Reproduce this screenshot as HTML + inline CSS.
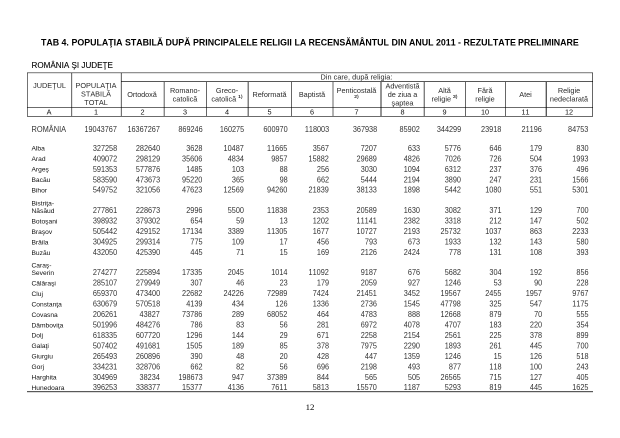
<!DOCTYPE html>
<html lang="ro"><head><meta charset="utf-8"><title>TAB 4</title>
<style>
html,body{margin:0;padding:0;background:#fff;}
body{width:620px;height:438px;position:relative;overflow:hidden;font-family:"Liberation Sans",sans-serif;color:#2b2b2b;}
.t{position:absolute;transform:scale(0.5);transform-origin:0 0;will-change:transform;}
.i{position:absolute;white-space:nowrap;font-kerning:none;}
.f0{font-size:15.7px;line-height:15.7px;color:#333;transform:scaleX(0.93);transform-origin:100% 0}
.f1{font-size:13.3px;line-height:13.3px;color:#111}
.f2{font-size:14.6px;line-height:14.6px;text-align:center}
.f3{font-size:17.7px;line-height:17.7px;letter-spacing:-0.03px;color:#000;font-weight:bold}
.f4{font-size:14.6px;line-height:14.6px;color:#111;text-align:center}
.f5{font-size:16.2px;line-height:16.2px;color:#000;-webkit-text-stroke:0.2px #000}
.f6{font-size:14.6px;line-height:14.6px;letter-spacing:0.08px}
.f7{font-size:14.6px;line-height:14.6px;letter-spacing:-0.14px;text-align:center}
.f8{font-size:15.7px;line-height:15.7px;color:#333;transform:scaleX(0.945);transform-origin:0 0}
.f9{font-size:17.7px;line-height:17.7px;color:#000;font-family:"Liberation Serif",serif;text-align:center}
.l{position:absolute;}
.s{font-size:0.68em;position:relative;top:-0.74em;color:#000;-webkit-text-stroke:0.2px #000;}
</style></head><body>
<div class="l" style="left:27px;top:72px;width:566px;height:1px;background:rgba(0,0,0,0.43)"></div>
<div class="l" style="left:27px;top:73px;width:566px;height:1px;background:rgba(0,0,0,0.12)"></div>
<div class="l" style="left:121px;top:81px;width:472px;height:1px;background:rgba(0,0,0,0.66)"></div>
<div class="l" style="left:27px;top:107px;width:566px;height:1px;background:rgba(0,0,0,0.58)"></div>
<div class="l" style="left:27px;top:116px;width:566px;height:1px;background:rgba(0,0,0,0.58)"></div>
<div class="l" style="left:27px;top:391px;width:566px;height:1px;background:rgba(0,0,0,0.65)"></div>
<div class="l" style="left:27px;top:392px;width:566px;height:1px;background:rgba(0,0,0,0.14)"></div>
<div class="l" style="left:27px;top:73px;width:1px;height:43px;background:rgba(0,0,0,0.55)"></div>
<div class="l" style="left:71px;top:73px;width:1px;height:43px;background:rgba(0,0,0,0.55)"></div>
<div class="l" style="left:72px;top:73px;width:1px;height:43px;background:rgba(0,0,0,0.1)"></div>
<div class="l" style="left:120px;top:73px;width:1px;height:43px;background:rgba(0,0,0,0.1)"></div>
<div class="l" style="left:121px;top:73px;width:1px;height:43px;background:rgba(0,0,0,0.55)"></div>
<div class="l" style="left:163px;top:82px;width:1px;height:34px;background:rgba(0,0,0,0.2)"></div>
<div class="l" style="left:164px;top:82px;width:1px;height:34px;background:rgba(0,0,0,0.45)"></div>
<div class="l" style="left:206px;top:82px;width:1px;height:34px;background:rgba(0,0,0,0.6)"></div>
<div class="l" style="left:247px;top:82px;width:1px;height:34px;background:rgba(0,0,0,0.25)"></div>
<div class="l" style="left:248px;top:82px;width:1px;height:34px;background:rgba(0,0,0,0.5)"></div>
<div class="l" style="left:291px;top:82px;width:1px;height:34px;background:rgba(0,0,0,0.6)"></div>
<div class="l" style="left:332px;top:82px;width:1px;height:34px;background:rgba(0,0,0,0.3)"></div>
<div class="l" style="left:333px;top:82px;width:1px;height:34px;background:rgba(0,0,0,0.3)"></div>
<div class="l" style="left:380px;top:82px;width:1px;height:34px;background:rgba(0,0,0,0.42)"></div>
<div class="l" style="left:381px;top:82px;width:1px;height:34px;background:rgba(0,0,0,0.42)"></div>
<div class="l" style="left:423px;top:82px;width:1px;height:34px;background:rgba(0,0,0,0.2)"></div>
<div class="l" style="left:424px;top:82px;width:1px;height:34px;background:rgba(0,0,0,0.5)"></div>
<div class="l" style="left:465px;top:82px;width:1px;height:34px;background:rgba(0,0,0,0.6)"></div>
<div class="l" style="left:505px;top:82px;width:1px;height:34px;background:rgba(0,0,0,0.6)"></div>
<div class="l" style="left:545px;top:82px;width:1px;height:34px;background:rgba(0,0,0,0.25)"></div>
<div class="l" style="left:546px;top:82px;width:1px;height:34px;background:rgba(0,0,0,0.65)"></div>
<div class="l" style="left:592px;top:73px;width:1px;height:43px;background:rgba(0,0,0,0.6)"></div>
<div class="t" style="left:40px;top:34px;width:54px;height:35px"><div class="i f3" style="left:2px;top:9px">TAB</div></div>
<div class="t" style="left:60px;top:34px;width:32px;height:35px"><div class="i f3" style="left:3px;top:9px">4.</div></div>
<div class="t" style="left:70px;top:34px;width:120px;height:35px"><div class="i f3" style="left:3px;top:9px">POPULAŢIA</div></div>
<div class="t" style="left:123px;top:34px;width:94px;height:35px"><div class="i f3" style="left:4px;top:9px">STABILĂ</div></div>
<div class="t" style="left:164px;top:34px;width:68px;height:35px"><div class="i f3" style="left:3px;top:9px">DUPĂ</div></div>
<div class="t" style="left:191px;top:34px;width:148px;height:35px"><div class="i f3" style="left:4px;top:9px">PRINCIPALELE</div></div>
<div class="t" style="left:259px;top:34px;width:82px;height:35px"><div class="i f3" style="left:2px;top:9px">RELIGII</div></div>
<div class="t" style="left:293px;top:34px;width:42px;height:35px"><div class="i f3" style="left:3px;top:9px">LA</div></div>
<div class="t" style="left:307px;top:34px;width:178px;height:35px"><div class="i f3" style="left:3px;top:9px">RECENSĂMÂNTUL</div></div>
<div class="t" style="left:390px;top:34px;width:48px;height:35px"><div class="i f3" style="left:3px;top:9px">DIN</div></div>
<div class="t" style="left:407px;top:34px;width:66px;height:35px"><div class="i f3" style="left:4px;top:9px">ANUL</div></div>
<div class="t" style="left:434px;top:34px;width:58px;height:35px"><div class="i f3" style="left:4px;top:9px">2011</div></div>
<div class="t" style="left:456px;top:34px;width:24px;height:35px"><div class="i f3" style="left:4px;top:9px">-</div></div>
<div class="t" style="left:462px;top:34px;width:122px;height:35px"><div class="i f3" style="left:3px;top:9px">REZULTATE</div></div>
<div class="t" style="left:517px;top:34px;width:140px;height:35px"><div class="i f3" style="left:2px;top:9px">PRELIMINARE</div></div>
<div class="t" style="left:30px;top:57px;width:200px;height:32px"><div class="i f5" style="left:3px;top:8px">ROMÂNIA ŞI JUDEŢE</div></div>
<div class="t" style="left:20px;top:78px;width:120px;height:30px"><div class="i f2" style="left:-1px;width:120px;top:8px">JUDEŢUL</div></div>
<div class="t" style="left:66px;top:78px;width:120px;height:30px"><div class="i f2" style="left:0px;width:120px;top:8px">POPULAŢIA</div></div>
<div class="t" style="left:66px;top:87px;width:120px;height:29px"><div class="i f2" style="left:0px;width:120px;top:7px">STABILĂ</div></div>
<div class="t" style="left:66px;top:95px;width:120px;height:30px"><div class="i f2" style="left:0px;width:120px;top:8px">TOTAL</div></div>
<div class="t" style="left:319px;top:70px;width:180px;height:29px"><div class="i f6" style="left:3px;top:7px">Din care, după religia:</div></div>
<div class="t" style="left:112px;top:87px;width:120px;height:30px"><div class="i f7" style="left:0px;width:120px;top:8px">Ortodoxă</div></div>
<div class="t" style="left:155px;top:83px;width:120px;height:30px"><div class="i f2" style="left:0px;width:120px;top:8px">Romano-</div></div>
<div class="t" style="left:155px;top:92px;width:120px;height:29px"><div class="i f2" style="left:0px;width:120px;top:7px">catolică</div></div>
<div class="t" style="left:197px;top:83px;width:120px;height:30px"><div class="i f2" style="left:0px;width:120px;top:8px">Greco-</div></div>
<div class="t" style="left:197px;top:92px;width:120px;height:29px"><div class="i f2" style="left:0px;width:120px;top:7px">catolică <span class="s">1)</span></div></div>
<div class="t" style="left:240px;top:87px;width:120px;height:30px"><div class="i f2" style="left:-1px;width:120px;top:8px">Reformată</div></div>
<div class="t" style="left:282px;top:87px;width:120px;height:30px"><div class="i f2" style="left:0px;width:120px;top:8px">Baptistă</div></div>
<div class="t" style="left:327px;top:83px;width:120px;height:30px"><div class="i f2" style="left:-1px;width:120px;top:8px">Penticostală</div></div>
<div class="t" style="left:327px;top:92px;width:120px;height:29px"><div class="i f2" style="left:-1px;width:120px;top:7px"><span class="s">2)</span></div></div>
<div class="t" style="left:372px;top:79px;width:120px;height:29px"><div class="i f2" style="left:1px;width:120px;top:7px">Adventistă</div></div>
<div class="t" style="left:372px;top:87px;width:120px;height:30px"><div class="i f2" style="left:1px;width:120px;top:8px">de ziua a</div></div>
<div class="t" style="left:372px;top:96px;width:120px;height:29px"><div class="i f2" style="left:1px;width:120px;top:7px">şaptea</div></div>
<div class="t" style="left:415px;top:83px;width:120px;height:30px"><div class="i f2" style="left:-1px;width:120px;top:8px">Altă</div></div>
<div class="t" style="left:415px;top:92px;width:120px;height:29px"><div class="i f2" style="left:-1px;width:120px;top:7px">religie <span class="s">3)</span></div></div>
<div class="t" style="left:455px;top:83px;width:120px;height:30px"><div class="i f2" style="left:0px;width:120px;top:8px">Fără</div></div>
<div class="t" style="left:455px;top:92px;width:120px;height:29px"><div class="i f2" style="left:0px;width:120px;top:7px">religie</div></div>
<div class="t" style="left:496px;top:87px;width:120px;height:30px"><div class="i f2" style="left:-1px;width:120px;top:8px">Atei</div></div>
<div class="t" style="left:539px;top:83px;width:120px;height:30px"><div class="i f2" style="left:0px;width:120px;top:8px">Religie</div></div>
<div class="t" style="left:539px;top:92px;width:120px;height:29px"><div class="i f2" style="left:0px;width:120px;top:7px">nedeclarată</div></div>
<div class="t" style="left:34px;top:105px;width:60px;height:29px"><div class="i f4" style="left:0px;width:60px;top:7px">A</div></div>
<div class="t" style="left:81px;top:105px;width:60px;height:29px"><div class="i f4" style="left:0px;width:60px;top:7px">1</div></div>
<div class="t" style="left:127px;top:105px;width:60px;height:29px"><div class="i f4" style="left:1px;width:60px;top:7px">2</div></div>
<div class="t" style="left:170px;top:105px;width:60px;height:29px"><div class="i f4" style="left:0px;width:60px;top:7px">3</div></div>
<div class="t" style="left:212px;top:105px;width:60px;height:29px"><div class="i f4" style="left:0px;width:60px;top:7px">4</div></div>
<div class="t" style="left:255px;top:105px;width:60px;height:29px"><div class="i f4" style="left:-1px;width:60px;top:7px">5</div></div>
<div class="t" style="left:297px;top:105px;width:60px;height:29px"><div class="i f4" style="left:0px;width:60px;top:7px">6</div></div>
<div class="t" style="left:342px;top:105px;width:60px;height:29px"><div class="i f4" style="left:-1px;width:60px;top:7px">7</div></div>
<div class="t" style="left:387px;top:105px;width:60px;height:29px"><div class="i f4" style="left:1px;width:60px;top:7px">8</div></div>
<div class="t" style="left:430px;top:105px;width:60px;height:29px"><div class="i f4" style="left:-1px;width:60px;top:7px">9</div></div>
<div class="t" style="left:470px;top:105px;width:60px;height:29px"><div class="i f4" style="left:0px;width:60px;top:7px">10</div></div>
<div class="t" style="left:511px;top:105px;width:60px;height:29px"><div class="i f4" style="left:-1px;width:60px;top:7px">11</div></div>
<div class="t" style="left:554px;top:105px;width:60px;height:29px"><div class="i f4" style="left:0px;width:60px;top:7px">12</div></div>
<div class="t" style="left:30px;top:122px;width:120px;height:31px"><div class="i f8" style="left:3px;top:7px">ROMÂNIA</div></div>
<div class="t" style="left:68px;top:122px;width:100px;height:31px"><div class="i f0" style="right:2px;top:7px">19043767</div></div>
<div class="t" style="left:111px;top:122px;width:100px;height:31px"><div class="i f0" style="right:2px;top:7px">16367267</div></div>
<div class="t" style="left:154px;top:122px;width:100px;height:31px"><div class="i f0" style="right:3px;top:7px">869246</div></div>
<div class="t" style="left:195px;top:122px;width:100px;height:31px"><div class="i f0" style="right:2px;top:7px">160275</div></div>
<div class="t" style="left:239px;top:122px;width:100px;height:31px"><div class="i f0" style="right:3px;top:7px">600970</div></div>
<div class="t" style="left:280px;top:122px;width:100px;height:31px"><div class="i f0" style="right:2px;top:7px">118003</div></div>
<div class="t" style="left:328px;top:122px;width:100px;height:31px"><div class="i f0" style="right:2px;top:7px">367938</div></div>
<div class="t" style="left:371px;top:122px;width:100px;height:31px"><div class="i f0" style="right:2px;top:7px">85902</div></div>
<div class="t" style="left:412px;top:122px;width:100px;height:31px"><div class="i f0" style="right:2px;top:7px">344299</div></div>
<div class="t" style="left:453px;top:122px;width:100px;height:31px"><div class="i f0" style="right:3px;top:7px">23918</div></div>
<div class="t" style="left:493px;top:122px;width:100px;height:31px"><div class="i f0" style="right:2px;top:7px">21196</div></div>
<div class="t" style="left:540px;top:122px;width:100px;height:31px"><div class="i f0" style="right:3px;top:7px">84753</div></div>
<div class="t" style="left:30px;top:141px;width:120px;height:28px"><div class="i f1" style="left:3px;top:8px">Alba</div></div>
<div class="t" style="left:68px;top:140px;width:100px;height:33px"><div class="i f0" style="right:2px;top:9px">327258</div></div>
<div class="t" style="left:111px;top:140px;width:100px;height:33px"><div class="i f0" style="right:2px;top:9px">282640</div></div>
<div class="t" style="left:154px;top:140px;width:100px;height:33px"><div class="i f0" style="right:3px;top:9px">3628</div></div>
<div class="t" style="left:195px;top:140px;width:100px;height:33px"><div class="i f0" style="right:2px;top:9px">10487</div></div>
<div class="t" style="left:239px;top:140px;width:100px;height:33px"><div class="i f0" style="right:3px;top:9px">11665</div></div>
<div class="t" style="left:280px;top:140px;width:100px;height:33px"><div class="i f0" style="right:2px;top:9px">3567</div></div>
<div class="t" style="left:328px;top:140px;width:100px;height:33px"><div class="i f0" style="right:2px;top:9px">7207</div></div>
<div class="t" style="left:371px;top:140px;width:100px;height:33px"><div class="i f0" style="right:2px;top:9px">633</div></div>
<div class="t" style="left:412px;top:140px;width:100px;height:33px"><div class="i f0" style="right:2px;top:9px">5776</div></div>
<div class="t" style="left:453px;top:140px;width:100px;height:33px"><div class="i f0" style="right:3px;top:9px">646</div></div>
<div class="t" style="left:493px;top:140px;width:100px;height:33px"><div class="i f0" style="right:2px;top:9px">179</div></div>
<div class="t" style="left:540px;top:140px;width:100px;height:33px"><div class="i f0" style="right:3px;top:9px">830</div></div>
<div class="t" style="left:30px;top:152px;width:120px;height:27px"><div class="i f1" style="left:3px;top:7px">Arad</div></div>
<div class="t" style="left:68px;top:151px;width:100px;height:32px"><div class="i f0" style="right:2px;top:8px">409072</div></div>
<div class="t" style="left:111px;top:151px;width:100px;height:32px"><div class="i f0" style="right:2px;top:8px">298129</div></div>
<div class="t" style="left:154px;top:151px;width:100px;height:32px"><div class="i f0" style="right:3px;top:8px">35606</div></div>
<div class="t" style="left:195px;top:151px;width:100px;height:32px"><div class="i f0" style="right:2px;top:8px">4834</div></div>
<div class="t" style="left:239px;top:151px;width:100px;height:32px"><div class="i f0" style="right:3px;top:8px">9857</div></div>
<div class="t" style="left:280px;top:151px;width:100px;height:32px"><div class="i f0" style="right:2px;top:8px">15882</div></div>
<div class="t" style="left:328px;top:151px;width:100px;height:32px"><div class="i f0" style="right:2px;top:8px">29689</div></div>
<div class="t" style="left:371px;top:151px;width:100px;height:32px"><div class="i f0" style="right:2px;top:8px">4826</div></div>
<div class="t" style="left:412px;top:151px;width:100px;height:32px"><div class="i f0" style="right:2px;top:8px">7026</div></div>
<div class="t" style="left:453px;top:151px;width:100px;height:32px"><div class="i f0" style="right:3px;top:8px">726</div></div>
<div class="t" style="left:493px;top:151px;width:100px;height:32px"><div class="i f0" style="right:2px;top:8px">504</div></div>
<div class="t" style="left:540px;top:151px;width:100px;height:32px"><div class="i f0" style="right:3px;top:8px">1993</div></div>
<div class="t" style="left:30px;top:162px;width:120px;height:28px"><div class="i f1" style="left:3px;top:8px">Argeş</div></div>
<div class="t" style="left:68px;top:161px;width:100px;height:33px"><div class="i f0" style="right:2px;top:9px">591353</div></div>
<div class="t" style="left:111px;top:161px;width:100px;height:33px"><div class="i f0" style="right:2px;top:9px">577876</div></div>
<div class="t" style="left:154px;top:161px;width:100px;height:33px"><div class="i f0" style="right:3px;top:9px">1485</div></div>
<div class="t" style="left:195px;top:161px;width:100px;height:33px"><div class="i f0" style="right:2px;top:9px">103</div></div>
<div class="t" style="left:239px;top:161px;width:100px;height:33px"><div class="i f0" style="right:3px;top:9px">88</div></div>
<div class="t" style="left:280px;top:161px;width:100px;height:33px"><div class="i f0" style="right:2px;top:9px">256</div></div>
<div class="t" style="left:328px;top:161px;width:100px;height:33px"><div class="i f0" style="right:2px;top:9px">3030</div></div>
<div class="t" style="left:371px;top:161px;width:100px;height:33px"><div class="i f0" style="right:2px;top:9px">1094</div></div>
<div class="t" style="left:412px;top:161px;width:100px;height:33px"><div class="i f0" style="right:2px;top:9px">6312</div></div>
<div class="t" style="left:453px;top:161px;width:100px;height:33px"><div class="i f0" style="right:3px;top:9px">237</div></div>
<div class="t" style="left:493px;top:161px;width:100px;height:33px"><div class="i f0" style="right:2px;top:9px">376</div></div>
<div class="t" style="left:540px;top:161px;width:100px;height:33px"><div class="i f0" style="right:3px;top:9px">496</div></div>
<div class="t" style="left:30px;top:173px;width:120px;height:27px"><div class="i f1" style="left:3px;top:7px">Bacău</div></div>
<div class="t" style="left:68px;top:172px;width:100px;height:32px"><div class="i f0" style="right:2px;top:8px">583590</div></div>
<div class="t" style="left:111px;top:172px;width:100px;height:32px"><div class="i f0" style="right:2px;top:8px">473673</div></div>
<div class="t" style="left:154px;top:172px;width:100px;height:32px"><div class="i f0" style="right:3px;top:8px">95220</div></div>
<div class="t" style="left:195px;top:172px;width:100px;height:32px"><div class="i f0" style="right:2px;top:8px">365</div></div>
<div class="t" style="left:239px;top:172px;width:100px;height:32px"><div class="i f0" style="right:3px;top:8px">98</div></div>
<div class="t" style="left:280px;top:172px;width:100px;height:32px"><div class="i f0" style="right:2px;top:8px">662</div></div>
<div class="t" style="left:328px;top:172px;width:100px;height:32px"><div class="i f0" style="right:2px;top:8px">5444</div></div>
<div class="t" style="left:371px;top:172px;width:100px;height:32px"><div class="i f0" style="right:2px;top:8px">2194</div></div>
<div class="t" style="left:412px;top:172px;width:100px;height:32px"><div class="i f0" style="right:2px;top:8px">3890</div></div>
<div class="t" style="left:453px;top:172px;width:100px;height:32px"><div class="i f0" style="right:3px;top:8px">247</div></div>
<div class="t" style="left:493px;top:172px;width:100px;height:32px"><div class="i f0" style="right:2px;top:8px">231</div></div>
<div class="t" style="left:540px;top:172px;width:100px;height:32px"><div class="i f0" style="right:3px;top:8px">1566</div></div>
<div class="t" style="left:30px;top:183px;width:120px;height:28px"><div class="i f1" style="left:3px;top:8px">Bihor</div></div>
<div class="t" style="left:68px;top:182px;width:100px;height:32px"><div class="i f0" style="right:2px;top:8px">549752</div></div>
<div class="t" style="left:111px;top:182px;width:100px;height:32px"><div class="i f0" style="right:2px;top:8px">321056</div></div>
<div class="t" style="left:154px;top:182px;width:100px;height:32px"><div class="i f0" style="right:3px;top:8px">47623</div></div>
<div class="t" style="left:195px;top:182px;width:100px;height:32px"><div class="i f0" style="right:2px;top:8px">12569</div></div>
<div class="t" style="left:239px;top:182px;width:100px;height:32px"><div class="i f0" style="right:3px;top:8px">94260</div></div>
<div class="t" style="left:280px;top:182px;width:100px;height:32px"><div class="i f0" style="right:2px;top:8px">21839</div></div>
<div class="t" style="left:328px;top:182px;width:100px;height:32px"><div class="i f0" style="right:2px;top:8px">38133</div></div>
<div class="t" style="left:371px;top:182px;width:100px;height:32px"><div class="i f0" style="right:2px;top:8px">1898</div></div>
<div class="t" style="left:412px;top:182px;width:100px;height:32px"><div class="i f0" style="right:2px;top:8px">5442</div></div>
<div class="t" style="left:453px;top:182px;width:100px;height:32px"><div class="i f0" style="right:3px;top:8px">1080</div></div>
<div class="t" style="left:493px;top:182px;width:100px;height:32px"><div class="i f0" style="right:2px;top:8px">551</div></div>
<div class="t" style="left:540px;top:182px;width:100px;height:32px"><div class="i f0" style="right:3px;top:8px">5301</div></div>
<div class="t" style="left:30px;top:196px;width:120px;height:28px"><div class="i f1" style="left:3px;top:8px">Bistriţa-</div></div>
<div class="t" style="left:30px;top:204px;width:120px;height:27px"><div class="i f1" style="left:3px;top:7px">Năsăud</div></div>
<div class="t" style="left:68px;top:203px;width:100px;height:31px"><div class="i f0" style="right:2px;top:7px">277861</div></div>
<div class="t" style="left:111px;top:203px;width:100px;height:31px"><div class="i f0" style="right:2px;top:7px">228673</div></div>
<div class="t" style="left:154px;top:203px;width:100px;height:31px"><div class="i f0" style="right:3px;top:7px">2996</div></div>
<div class="t" style="left:195px;top:203px;width:100px;height:31px"><div class="i f0" style="right:2px;top:7px">5500</div></div>
<div class="t" style="left:239px;top:203px;width:100px;height:31px"><div class="i f0" style="right:3px;top:7px">11838</div></div>
<div class="t" style="left:280px;top:203px;width:100px;height:31px"><div class="i f0" style="right:2px;top:7px">2353</div></div>
<div class="t" style="left:328px;top:203px;width:100px;height:31px"><div class="i f0" style="right:2px;top:7px">20589</div></div>
<div class="t" style="left:371px;top:203px;width:100px;height:31px"><div class="i f0" style="right:2px;top:7px">1630</div></div>
<div class="t" style="left:412px;top:203px;width:100px;height:31px"><div class="i f0" style="right:2px;top:7px">3082</div></div>
<div class="t" style="left:453px;top:203px;width:100px;height:31px"><div class="i f0" style="right:3px;top:7px">371</div></div>
<div class="t" style="left:493px;top:203px;width:100px;height:31px"><div class="i f0" style="right:2px;top:7px">129</div></div>
<div class="t" style="left:540px;top:203px;width:100px;height:31px"><div class="i f0" style="right:3px;top:7px">700</div></div>
<div class="t" style="left:30px;top:214px;width:120px;height:28px"><div class="i f1" style="left:3px;top:8px">Botoşani</div></div>
<div class="t" style="left:68px;top:213px;width:100px;height:32px"><div class="i f0" style="right:2px;top:8px">398932</div></div>
<div class="t" style="left:111px;top:213px;width:100px;height:32px"><div class="i f0" style="right:2px;top:8px">379302</div></div>
<div class="t" style="left:154px;top:213px;width:100px;height:32px"><div class="i f0" style="right:3px;top:8px">654</div></div>
<div class="t" style="left:195px;top:213px;width:100px;height:32px"><div class="i f0" style="right:2px;top:8px">59</div></div>
<div class="t" style="left:239px;top:213px;width:100px;height:32px"><div class="i f0" style="right:3px;top:8px">13</div></div>
<div class="t" style="left:280px;top:213px;width:100px;height:32px"><div class="i f0" style="right:2px;top:8px">1202</div></div>
<div class="t" style="left:328px;top:213px;width:100px;height:32px"><div class="i f0" style="right:2px;top:8px">11141</div></div>
<div class="t" style="left:371px;top:213px;width:100px;height:32px"><div class="i f0" style="right:2px;top:8px">2382</div></div>
<div class="t" style="left:412px;top:213px;width:100px;height:32px"><div class="i f0" style="right:2px;top:8px">3318</div></div>
<div class="t" style="left:453px;top:213px;width:100px;height:32px"><div class="i f0" style="right:3px;top:8px">212</div></div>
<div class="t" style="left:493px;top:213px;width:100px;height:32px"><div class="i f0" style="right:2px;top:8px">147</div></div>
<div class="t" style="left:540px;top:213px;width:100px;height:32px"><div class="i f0" style="right:3px;top:8px">502</div></div>
<div class="t" style="left:30px;top:225px;width:120px;height:27px"><div class="i f1" style="left:3px;top:7px">Braşov</div></div>
<div class="t" style="left:68px;top:224px;width:100px;height:31px"><div class="i f0" style="right:2px;top:7px">505442</div></div>
<div class="t" style="left:111px;top:224px;width:100px;height:31px"><div class="i f0" style="right:2px;top:7px">429152</div></div>
<div class="t" style="left:154px;top:224px;width:100px;height:31px"><div class="i f0" style="right:3px;top:7px">17134</div></div>
<div class="t" style="left:195px;top:224px;width:100px;height:31px"><div class="i f0" style="right:2px;top:7px">3389</div></div>
<div class="t" style="left:239px;top:224px;width:100px;height:31px"><div class="i f0" style="right:3px;top:7px">11305</div></div>
<div class="t" style="left:280px;top:224px;width:100px;height:31px"><div class="i f0" style="right:2px;top:7px">1677</div></div>
<div class="t" style="left:328px;top:224px;width:100px;height:31px"><div class="i f0" style="right:2px;top:7px">10727</div></div>
<div class="t" style="left:371px;top:224px;width:100px;height:31px"><div class="i f0" style="right:2px;top:7px">2193</div></div>
<div class="t" style="left:412px;top:224px;width:100px;height:31px"><div class="i f0" style="right:2px;top:7px">25732</div></div>
<div class="t" style="left:453px;top:224px;width:100px;height:31px"><div class="i f0" style="right:3px;top:7px">1037</div></div>
<div class="t" style="left:493px;top:224px;width:100px;height:31px"><div class="i f0" style="right:2px;top:7px">863</div></div>
<div class="t" style="left:540px;top:224px;width:100px;height:31px"><div class="i f0" style="right:3px;top:7px">2233</div></div>
<div class="t" style="left:30px;top:235px;width:120px;height:28px"><div class="i f1" style="left:3px;top:8px">Brăila</div></div>
<div class="t" style="left:68px;top:234px;width:100px;height:32px"><div class="i f0" style="right:2px;top:8px">304925</div></div>
<div class="t" style="left:111px;top:234px;width:100px;height:32px"><div class="i f0" style="right:2px;top:8px">299314</div></div>
<div class="t" style="left:154px;top:234px;width:100px;height:32px"><div class="i f0" style="right:3px;top:8px">775</div></div>
<div class="t" style="left:195px;top:234px;width:100px;height:32px"><div class="i f0" style="right:2px;top:8px">109</div></div>
<div class="t" style="left:239px;top:234px;width:100px;height:32px"><div class="i f0" style="right:3px;top:8px">17</div></div>
<div class="t" style="left:280px;top:234px;width:100px;height:32px"><div class="i f0" style="right:2px;top:8px">456</div></div>
<div class="t" style="left:328px;top:234px;width:100px;height:32px"><div class="i f0" style="right:2px;top:8px">793</div></div>
<div class="t" style="left:371px;top:234px;width:100px;height:32px"><div class="i f0" style="right:2px;top:8px">673</div></div>
<div class="t" style="left:412px;top:234px;width:100px;height:32px"><div class="i f0" style="right:2px;top:8px">1933</div></div>
<div class="t" style="left:453px;top:234px;width:100px;height:32px"><div class="i f0" style="right:3px;top:8px">132</div></div>
<div class="t" style="left:493px;top:234px;width:100px;height:32px"><div class="i f0" style="right:2px;top:8px">143</div></div>
<div class="t" style="left:540px;top:234px;width:100px;height:32px"><div class="i f0" style="right:3px;top:8px">580</div></div>
<div class="t" style="left:30px;top:246px;width:120px;height:27px"><div class="i f1" style="left:3px;top:7px">Buzău</div></div>
<div class="t" style="left:68px;top:245px;width:100px;height:31px"><div class="i f0" style="right:2px;top:7px">432050</div></div>
<div class="t" style="left:111px;top:245px;width:100px;height:31px"><div class="i f0" style="right:2px;top:7px">425390</div></div>
<div class="t" style="left:154px;top:245px;width:100px;height:31px"><div class="i f0" style="right:3px;top:7px">445</div></div>
<div class="t" style="left:195px;top:245px;width:100px;height:31px"><div class="i f0" style="right:2px;top:7px">71</div></div>
<div class="t" style="left:239px;top:245px;width:100px;height:31px"><div class="i f0" style="right:3px;top:7px">15</div></div>
<div class="t" style="left:280px;top:245px;width:100px;height:31px"><div class="i f0" style="right:2px;top:7px">169</div></div>
<div class="t" style="left:328px;top:245px;width:100px;height:31px"><div class="i f0" style="right:2px;top:7px">2126</div></div>
<div class="t" style="left:371px;top:245px;width:100px;height:31px"><div class="i f0" style="right:2px;top:7px">2424</div></div>
<div class="t" style="left:412px;top:245px;width:100px;height:31px"><div class="i f0" style="right:2px;top:7px">778</div></div>
<div class="t" style="left:453px;top:245px;width:100px;height:31px"><div class="i f0" style="right:3px;top:7px">131</div></div>
<div class="t" style="left:493px;top:245px;width:100px;height:31px"><div class="i f0" style="right:2px;top:7px">108</div></div>
<div class="t" style="left:540px;top:245px;width:100px;height:31px"><div class="i f0" style="right:3px;top:7px">393</div></div>
<div class="t" style="left:30px;top:259px;width:120px;height:26px"><div class="i f1" style="left:3px;top:6px">Caraş-</div></div>
<div class="t" style="left:30px;top:266px;width:120px;height:27px"><div class="i f1" style="left:3px;top:7px">Severin</div></div>
<div class="t" style="left:68px;top:265px;width:100px;height:31px"><div class="i f0" style="right:2px;top:7px">274277</div></div>
<div class="t" style="left:111px;top:265px;width:100px;height:31px"><div class="i f0" style="right:2px;top:7px">225894</div></div>
<div class="t" style="left:154px;top:265px;width:100px;height:31px"><div class="i f0" style="right:3px;top:7px">17335</div></div>
<div class="t" style="left:195px;top:265px;width:100px;height:31px"><div class="i f0" style="right:2px;top:7px">2045</div></div>
<div class="t" style="left:239px;top:265px;width:100px;height:31px"><div class="i f0" style="right:3px;top:7px">1014</div></div>
<div class="t" style="left:280px;top:265px;width:100px;height:31px"><div class="i f0" style="right:2px;top:7px">11092</div></div>
<div class="t" style="left:328px;top:265px;width:100px;height:31px"><div class="i f0" style="right:2px;top:7px">9187</div></div>
<div class="t" style="left:371px;top:265px;width:100px;height:31px"><div class="i f0" style="right:2px;top:7px">676</div></div>
<div class="t" style="left:412px;top:265px;width:100px;height:31px"><div class="i f0" style="right:2px;top:7px">5682</div></div>
<div class="t" style="left:453px;top:265px;width:100px;height:31px"><div class="i f0" style="right:3px;top:7px">304</div></div>
<div class="t" style="left:493px;top:265px;width:100px;height:31px"><div class="i f0" style="right:2px;top:7px">192</div></div>
<div class="t" style="left:540px;top:265px;width:100px;height:31px"><div class="i f0" style="right:3px;top:7px">856</div></div>
<div class="t" style="left:30px;top:276px;width:120px;height:28px"><div class="i f1" style="left:3px;top:8px">Călăraşi</div></div>
<div class="t" style="left:68px;top:275px;width:100px;height:32px"><div class="i f0" style="right:2px;top:8px">285107</div></div>
<div class="t" style="left:111px;top:275px;width:100px;height:32px"><div class="i f0" style="right:2px;top:8px">279949</div></div>
<div class="t" style="left:154px;top:275px;width:100px;height:32px"><div class="i f0" style="right:3px;top:8px">307</div></div>
<div class="t" style="left:195px;top:275px;width:100px;height:32px"><div class="i f0" style="right:2px;top:8px">46</div></div>
<div class="t" style="left:239px;top:275px;width:100px;height:32px"><div class="i f0" style="right:3px;top:8px">23</div></div>
<div class="t" style="left:280px;top:275px;width:100px;height:32px"><div class="i f0" style="right:2px;top:8px">179</div></div>
<div class="t" style="left:328px;top:275px;width:100px;height:32px"><div class="i f0" style="right:2px;top:8px">2059</div></div>
<div class="t" style="left:371px;top:275px;width:100px;height:32px"><div class="i f0" style="right:2px;top:8px">927</div></div>
<div class="t" style="left:412px;top:275px;width:100px;height:32px"><div class="i f0" style="right:2px;top:8px">1246</div></div>
<div class="t" style="left:453px;top:275px;width:100px;height:32px"><div class="i f0" style="right:3px;top:8px">53</div></div>
<div class="t" style="left:493px;top:275px;width:100px;height:32px"><div class="i f0" style="right:2px;top:8px">90</div></div>
<div class="t" style="left:540px;top:275px;width:100px;height:32px"><div class="i f0" style="right:3px;top:8px">228</div></div>
<div class="t" style="left:30px;top:287px;width:120px;height:27px"><div class="i f1" style="left:3px;top:7px">Cluj</div></div>
<div class="t" style="left:68px;top:286px;width:100px;height:31px"><div class="i f0" style="right:2px;top:7px">659370</div></div>
<div class="t" style="left:111px;top:286px;width:100px;height:31px"><div class="i f0" style="right:2px;top:7px">473400</div></div>
<div class="t" style="left:154px;top:286px;width:100px;height:31px"><div class="i f0" style="right:3px;top:7px">22682</div></div>
<div class="t" style="left:195px;top:286px;width:100px;height:31px"><div class="i f0" style="right:2px;top:7px">24226</div></div>
<div class="t" style="left:239px;top:286px;width:100px;height:31px"><div class="i f0" style="right:3px;top:7px">72989</div></div>
<div class="t" style="left:280px;top:286px;width:100px;height:31px"><div class="i f0" style="right:2px;top:7px">7424</div></div>
<div class="t" style="left:328px;top:286px;width:100px;height:31px"><div class="i f0" style="right:2px;top:7px">21451</div></div>
<div class="t" style="left:371px;top:286px;width:100px;height:31px"><div class="i f0" style="right:2px;top:7px">3452</div></div>
<div class="t" style="left:412px;top:286px;width:100px;height:31px"><div class="i f0" style="right:2px;top:7px">19567</div></div>
<div class="t" style="left:453px;top:286px;width:100px;height:31px"><div class="i f0" style="right:3px;top:7px">2455</div></div>
<div class="t" style="left:493px;top:286px;width:100px;height:31px"><div class="i f0" style="right:2px;top:7px">1957</div></div>
<div class="t" style="left:540px;top:286px;width:100px;height:31px"><div class="i f0" style="right:3px;top:7px">9767</div></div>
<div class="t" style="left:30px;top:297px;width:120px;height:28px"><div class="i f1" style="left:3px;top:8px">Constanţa</div></div>
<div class="t" style="left:68px;top:296px;width:100px;height:32px"><div class="i f0" style="right:2px;top:8px">630679</div></div>
<div class="t" style="left:111px;top:296px;width:100px;height:32px"><div class="i f0" style="right:2px;top:8px">570518</div></div>
<div class="t" style="left:154px;top:296px;width:100px;height:32px"><div class="i f0" style="right:3px;top:8px">4139</div></div>
<div class="t" style="left:195px;top:296px;width:100px;height:32px"><div class="i f0" style="right:2px;top:8px">434</div></div>
<div class="t" style="left:239px;top:296px;width:100px;height:32px"><div class="i f0" style="right:3px;top:8px">126</div></div>
<div class="t" style="left:280px;top:296px;width:100px;height:32px"><div class="i f0" style="right:2px;top:8px">1336</div></div>
<div class="t" style="left:328px;top:296px;width:100px;height:32px"><div class="i f0" style="right:2px;top:8px">2736</div></div>
<div class="t" style="left:371px;top:296px;width:100px;height:32px"><div class="i f0" style="right:2px;top:8px">1545</div></div>
<div class="t" style="left:412px;top:296px;width:100px;height:32px"><div class="i f0" style="right:2px;top:8px">47798</div></div>
<div class="t" style="left:453px;top:296px;width:100px;height:32px"><div class="i f0" style="right:3px;top:8px">325</div></div>
<div class="t" style="left:493px;top:296px;width:100px;height:32px"><div class="i f0" style="right:2px;top:8px">547</div></div>
<div class="t" style="left:540px;top:296px;width:100px;height:32px"><div class="i f0" style="right:3px;top:8px">1175</div></div>
<div class="t" style="left:30px;top:308px;width:120px;height:27px"><div class="i f1" style="left:3px;top:7px">Covasna</div></div>
<div class="t" style="left:68px;top:307px;width:100px;height:31px"><div class="i f0" style="right:2px;top:7px">206261</div></div>
<div class="t" style="left:111px;top:307px;width:100px;height:31px"><div class="i f0" style="right:2px;top:7px">43827</div></div>
<div class="t" style="left:154px;top:307px;width:100px;height:31px"><div class="i f0" style="right:3px;top:7px">73786</div></div>
<div class="t" style="left:195px;top:307px;width:100px;height:31px"><div class="i f0" style="right:2px;top:7px">289</div></div>
<div class="t" style="left:239px;top:307px;width:100px;height:31px"><div class="i f0" style="right:3px;top:7px">68052</div></div>
<div class="t" style="left:280px;top:307px;width:100px;height:31px"><div class="i f0" style="right:2px;top:7px">464</div></div>
<div class="t" style="left:328px;top:307px;width:100px;height:31px"><div class="i f0" style="right:2px;top:7px">4783</div></div>
<div class="t" style="left:371px;top:307px;width:100px;height:31px"><div class="i f0" style="right:2px;top:7px">888</div></div>
<div class="t" style="left:412px;top:307px;width:100px;height:31px"><div class="i f0" style="right:2px;top:7px">12668</div></div>
<div class="t" style="left:453px;top:307px;width:100px;height:31px"><div class="i f0" style="right:3px;top:7px">879</div></div>
<div class="t" style="left:493px;top:307px;width:100px;height:31px"><div class="i f0" style="right:2px;top:7px">70</div></div>
<div class="t" style="left:540px;top:307px;width:100px;height:31px"><div class="i f0" style="right:3px;top:7px">555</div></div>
<div class="t" style="left:30px;top:318px;width:120px;height:28px"><div class="i f1" style="left:3px;top:8px">Dâmboviţa</div></div>
<div class="t" style="left:68px;top:317px;width:100px;height:32px"><div class="i f0" style="right:2px;top:8px">501996</div></div>
<div class="t" style="left:111px;top:317px;width:100px;height:32px"><div class="i f0" style="right:2px;top:8px">484276</div></div>
<div class="t" style="left:154px;top:317px;width:100px;height:32px"><div class="i f0" style="right:3px;top:8px">786</div></div>
<div class="t" style="left:195px;top:317px;width:100px;height:32px"><div class="i f0" style="right:2px;top:8px">83</div></div>
<div class="t" style="left:239px;top:317px;width:100px;height:32px"><div class="i f0" style="right:3px;top:8px">56</div></div>
<div class="t" style="left:280px;top:317px;width:100px;height:32px"><div class="i f0" style="right:2px;top:8px">281</div></div>
<div class="t" style="left:328px;top:317px;width:100px;height:32px"><div class="i f0" style="right:2px;top:8px">6972</div></div>
<div class="t" style="left:371px;top:317px;width:100px;height:32px"><div class="i f0" style="right:2px;top:8px">4078</div></div>
<div class="t" style="left:412px;top:317px;width:100px;height:32px"><div class="i f0" style="right:2px;top:8px">4707</div></div>
<div class="t" style="left:453px;top:317px;width:100px;height:32px"><div class="i f0" style="right:3px;top:8px">183</div></div>
<div class="t" style="left:493px;top:317px;width:100px;height:32px"><div class="i f0" style="right:2px;top:8px">220</div></div>
<div class="t" style="left:540px;top:317px;width:100px;height:32px"><div class="i f0" style="right:3px;top:8px">354</div></div>
<div class="t" style="left:30px;top:329px;width:120px;height:26px"><div class="i f1" style="left:3px;top:6px">Dolj</div></div>
<div class="t" style="left:68px;top:328px;width:100px;height:31px"><div class="i f0" style="right:2px;top:7px">618335</div></div>
<div class="t" style="left:111px;top:328px;width:100px;height:31px"><div class="i f0" style="right:2px;top:7px">607720</div></div>
<div class="t" style="left:154px;top:328px;width:100px;height:31px"><div class="i f0" style="right:3px;top:7px">1296</div></div>
<div class="t" style="left:195px;top:328px;width:100px;height:31px"><div class="i f0" style="right:2px;top:7px">144</div></div>
<div class="t" style="left:239px;top:328px;width:100px;height:31px"><div class="i f0" style="right:3px;top:7px">29</div></div>
<div class="t" style="left:280px;top:328px;width:100px;height:31px"><div class="i f0" style="right:2px;top:7px">671</div></div>
<div class="t" style="left:328px;top:328px;width:100px;height:31px"><div class="i f0" style="right:2px;top:7px">2258</div></div>
<div class="t" style="left:371px;top:328px;width:100px;height:31px"><div class="i f0" style="right:2px;top:7px">2154</div></div>
<div class="t" style="left:412px;top:328px;width:100px;height:31px"><div class="i f0" style="right:2px;top:7px">2561</div></div>
<div class="t" style="left:453px;top:328px;width:100px;height:31px"><div class="i f0" style="right:3px;top:7px">225</div></div>
<div class="t" style="left:493px;top:328px;width:100px;height:31px"><div class="i f0" style="right:2px;top:7px">378</div></div>
<div class="t" style="left:540px;top:328px;width:100px;height:31px"><div class="i f0" style="right:3px;top:7px">899</div></div>
<div class="t" style="left:30px;top:339px;width:120px;height:27px"><div class="i f1" style="left:3px;top:7px">Galaţi</div></div>
<div class="t" style="left:68px;top:338px;width:100px;height:32px"><div class="i f0" style="right:2px;top:8px">507402</div></div>
<div class="t" style="left:111px;top:338px;width:100px;height:32px"><div class="i f0" style="right:2px;top:8px">491681</div></div>
<div class="t" style="left:154px;top:338px;width:100px;height:32px"><div class="i f0" style="right:3px;top:8px">1505</div></div>
<div class="t" style="left:195px;top:338px;width:100px;height:32px"><div class="i f0" style="right:2px;top:8px">189</div></div>
<div class="t" style="left:239px;top:338px;width:100px;height:32px"><div class="i f0" style="right:3px;top:8px">85</div></div>
<div class="t" style="left:280px;top:338px;width:100px;height:32px"><div class="i f0" style="right:2px;top:8px">378</div></div>
<div class="t" style="left:328px;top:338px;width:100px;height:32px"><div class="i f0" style="right:2px;top:8px">7975</div></div>
<div class="t" style="left:371px;top:338px;width:100px;height:32px"><div class="i f0" style="right:2px;top:8px">2290</div></div>
<div class="t" style="left:412px;top:338px;width:100px;height:32px"><div class="i f0" style="right:2px;top:8px">1893</div></div>
<div class="t" style="left:453px;top:338px;width:100px;height:32px"><div class="i f0" style="right:3px;top:8px">261</div></div>
<div class="t" style="left:493px;top:338px;width:100px;height:32px"><div class="i f0" style="right:2px;top:8px">445</div></div>
<div class="t" style="left:540px;top:338px;width:100px;height:32px"><div class="i f0" style="right:3px;top:8px">700</div></div>
<div class="t" style="left:30px;top:350px;width:120px;height:26px"><div class="i f1" style="left:3px;top:6px">Giurgiu</div></div>
<div class="t" style="left:68px;top:349px;width:100px;height:31px"><div class="i f0" style="right:2px;top:7px">265493</div></div>
<div class="t" style="left:111px;top:349px;width:100px;height:31px"><div class="i f0" style="right:2px;top:7px">260896</div></div>
<div class="t" style="left:154px;top:349px;width:100px;height:31px"><div class="i f0" style="right:3px;top:7px">390</div></div>
<div class="t" style="left:195px;top:349px;width:100px;height:31px"><div class="i f0" style="right:2px;top:7px">48</div></div>
<div class="t" style="left:239px;top:349px;width:100px;height:31px"><div class="i f0" style="right:3px;top:7px">20</div></div>
<div class="t" style="left:280px;top:349px;width:100px;height:31px"><div class="i f0" style="right:2px;top:7px">428</div></div>
<div class="t" style="left:328px;top:349px;width:100px;height:31px"><div class="i f0" style="right:2px;top:7px">447</div></div>
<div class="t" style="left:371px;top:349px;width:100px;height:31px"><div class="i f0" style="right:2px;top:7px">1359</div></div>
<div class="t" style="left:412px;top:349px;width:100px;height:31px"><div class="i f0" style="right:2px;top:7px">1246</div></div>
<div class="t" style="left:453px;top:349px;width:100px;height:31px"><div class="i f0" style="right:3px;top:7px">15</div></div>
<div class="t" style="left:493px;top:349px;width:100px;height:31px"><div class="i f0" style="right:2px;top:7px">126</div></div>
<div class="t" style="left:540px;top:349px;width:100px;height:31px"><div class="i f0" style="right:3px;top:7px">518</div></div>
<div class="t" style="left:30px;top:360px;width:120px;height:27px"><div class="i f1" style="left:3px;top:7px">Gorj</div></div>
<div class="t" style="left:68px;top:359px;width:100px;height:32px"><div class="i f0" style="right:2px;top:8px">334231</div></div>
<div class="t" style="left:111px;top:359px;width:100px;height:32px"><div class="i f0" style="right:2px;top:8px">328706</div></div>
<div class="t" style="left:154px;top:359px;width:100px;height:32px"><div class="i f0" style="right:3px;top:8px">662</div></div>
<div class="t" style="left:195px;top:359px;width:100px;height:32px"><div class="i f0" style="right:2px;top:8px">82</div></div>
<div class="t" style="left:239px;top:359px;width:100px;height:32px"><div class="i f0" style="right:3px;top:8px">56</div></div>
<div class="t" style="left:280px;top:359px;width:100px;height:32px"><div class="i f0" style="right:2px;top:8px">696</div></div>
<div class="t" style="left:328px;top:359px;width:100px;height:32px"><div class="i f0" style="right:2px;top:8px">2198</div></div>
<div class="t" style="left:371px;top:359px;width:100px;height:32px"><div class="i f0" style="right:2px;top:8px">493</div></div>
<div class="t" style="left:412px;top:359px;width:100px;height:32px"><div class="i f0" style="right:2px;top:8px">877</div></div>
<div class="t" style="left:453px;top:359px;width:100px;height:32px"><div class="i f0" style="right:3px;top:8px">118</div></div>
<div class="t" style="left:493px;top:359px;width:100px;height:32px"><div class="i f0" style="right:2px;top:8px">100</div></div>
<div class="t" style="left:540px;top:359px;width:100px;height:32px"><div class="i f0" style="right:3px;top:8px">243</div></div>
<div class="t" style="left:30px;top:370px;width:120px;height:28px"><div class="i f1" style="left:3px;top:8px">Harghita</div></div>
<div class="t" style="left:68px;top:369px;width:100px;height:33px"><div class="i f0" style="right:2px;top:9px">304969</div></div>
<div class="t" style="left:111px;top:369px;width:100px;height:33px"><div class="i f0" style="right:2px;top:9px">38234</div></div>
<div class="t" style="left:154px;top:369px;width:100px;height:33px"><div class="i f0" style="right:3px;top:9px">198673</div></div>
<div class="t" style="left:195px;top:369px;width:100px;height:33px"><div class="i f0" style="right:2px;top:9px">947</div></div>
<div class="t" style="left:239px;top:369px;width:100px;height:33px"><div class="i f0" style="right:3px;top:9px">37389</div></div>
<div class="t" style="left:280px;top:369px;width:100px;height:33px"><div class="i f0" style="right:2px;top:9px">844</div></div>
<div class="t" style="left:328px;top:369px;width:100px;height:33px"><div class="i f0" style="right:2px;top:9px">565</div></div>
<div class="t" style="left:371px;top:369px;width:100px;height:33px"><div class="i f0" style="right:2px;top:9px">505</div></div>
<div class="t" style="left:412px;top:369px;width:100px;height:33px"><div class="i f0" style="right:2px;top:9px">26565</div></div>
<div class="t" style="left:453px;top:369px;width:100px;height:33px"><div class="i f0" style="right:3px;top:9px">715</div></div>
<div class="t" style="left:493px;top:369px;width:100px;height:33px"><div class="i f0" style="right:2px;top:9px">127</div></div>
<div class="t" style="left:540px;top:369px;width:100px;height:33px"><div class="i f0" style="right:3px;top:9px">405</div></div>
<div class="t" style="left:30px;top:381px;width:120px;height:27px"><div class="i f1" style="left:3px;top:7px">Hunedoara</div></div>
<div class="t" style="left:68px;top:380px;width:100px;height:31px"><div class="i f0" style="right:2px;top:7px">396253</div></div>
<div class="t" style="left:111px;top:380px;width:100px;height:31px"><div class="i f0" style="right:2px;top:7px">338377</div></div>
<div class="t" style="left:154px;top:380px;width:100px;height:31px"><div class="i f0" style="right:3px;top:7px">15377</div></div>
<div class="t" style="left:195px;top:380px;width:100px;height:31px"><div class="i f0" style="right:2px;top:7px">4136</div></div>
<div class="t" style="left:239px;top:380px;width:100px;height:31px"><div class="i f0" style="right:3px;top:7px">7611</div></div>
<div class="t" style="left:280px;top:380px;width:100px;height:31px"><div class="i f0" style="right:2px;top:7px">5813</div></div>
<div class="t" style="left:328px;top:380px;width:100px;height:31px"><div class="i f0" style="right:2px;top:7px">15570</div></div>
<div class="t" style="left:371px;top:380px;width:100px;height:31px"><div class="i f0" style="right:2px;top:7px">1187</div></div>
<div class="t" style="left:412px;top:380px;width:100px;height:31px"><div class="i f0" style="right:2px;top:7px">5293</div></div>
<div class="t" style="left:453px;top:380px;width:100px;height:31px"><div class="i f0" style="right:3px;top:7px">819</div></div>
<div class="t" style="left:493px;top:380px;width:100px;height:31px"><div class="i f0" style="right:2px;top:7px">445</div></div>
<div class="t" style="left:540px;top:380px;width:100px;height:31px"><div class="i f0" style="right:3px;top:7px">1625</div></div>
<div class="t" style="left:295px;top:399px;width:60px;height:34px"><div class="i f9" style="left:0px;width:60px;top:8px">12</div></div>
</body></html>
